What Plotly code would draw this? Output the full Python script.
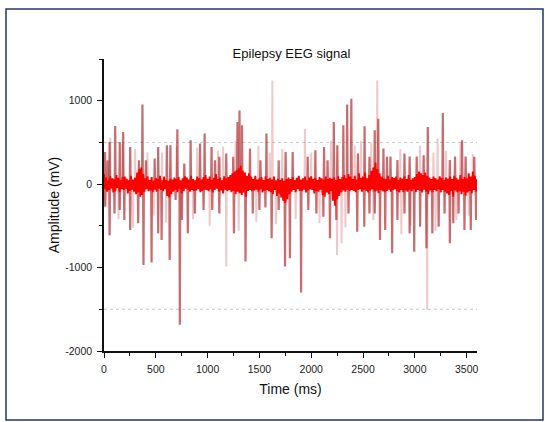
import plotly.graph_objects as go

# ---------------- data ----------------
# dense background activity, one sample every 10 ms from 0 to 3600 ms (mV)
base_step_ms = 10
baseline_mv = [
    120, -60, 80, -90, 40, -70, 95, -50, 70, -100,
    60, -85, 110, -45, 75, -95, 50, -60, 85, -70,
    90, -55, 65, -110, 45, -80, 100, -65, 55, -90,
    80, -120, 140, -100, 180, -150, 200, -130, 120, -90,
    70, -60, 95, -85, 50, -75, 85, -95, 40, -65,
    75, -90, 60, -55, 100, -70, 45, -85, 90, -60,
    50, -140, 40, -160, 65, -120, 55, -90, 80, -70,
    60, -95, 85, -60, 45, -110, 70, -80, 95, -55,
    80, -65, 55, -90, 100, -70, 60, -85, 45, -75,
    90, -60, 70, -95, 55, -80, 85, -65, 110, -70,
    65, -85, 90, -60, 50, -100, 75, -70, 120, -55,
    60, -90, 80, -75, 45, -110, 95, -65, 70, -85,
    85, -70, 110, -95, 130, -80, 150, -120, 170, -90,
    190, -110, 220, -130, 160, -100, 140, -150, 100, -80,
    130, -70, 90, -85, 60, -75, 100, -65, 55, -90,
    70, -60, 85, -100, 50, -80, 95, -70, 60, -85,
    75, -95, 55, -120, 90, -70, 45, -140, 65, -110,
    50, -160, 70, -200, 40, -230, 60, -180, 80, -120,
    60, -90, 85, -70, 50, -95, 75, -60, 100, -80,
    55, -85, 70, -65, 90, -100, 45, -75, 80, -60,
    95, -70, 60, -110, 75, -85, 50, -90, 85, -65,
    70, -130, 55, -150, 90, -100, 60, -120, 75, -80,
    65, -200, 80, -260, 50, -180, 95, -140, 60, -100,
    85, -75, 110, -90, 70, -65, 120, -85, 90, -70,
    60, -80, 100, -95, 55, -70, 130, -60, 75, -90,
    90, -65, 140, -80, 70, -100, 110, -75, 160, -60,
    200, -90, 260, -80, 180, -110, 130, -70, 90, -85,
    70, -95, 60, -80, 100, -65, 55, -90, 85, -70,
    75, -60, 90, -85, 50, -100, 80, -70, 65, -95,
    95, -75, 60, -90, 110, -65, 50, -85, 70, -60,
    85, -95, 120, -70, 150, -80, 130, -100, 110, -65,
    140, -90, 100, -120, 80, -75, 60, -95, 90, -70,
    70, -85, 55, -60, 95, -100, 75, -70, 50, -90,
    80, -110, 65, -130, 90, -80, 60, -150, 100, -75,
    75, -95, 55, -85, 110, -120, 60, -90, 85, -140,
    70, -100, 130, -80, 90, -110, 150, -70, 100, -90,
    60,
]
baseline_time_ms = [i * base_step_ms for i in range(len(baseline_mv))]

# dark-red spikes: time (ms) and peak amplitude (mV)
spike_time_ms = [
    10, 34, 54, 108, 152, 185, 253, 337, 371, 405, 489, 523, 607, 641, 708,
    775, 836, 927, 971, 1038, 1072, 1113, 1180, 1247, 1288, 1308, 1332, 1409,
    1510, 1568, 1686, 1753, 1821, 1966, 2040, 2124, 2158, 2218, 2252, 2310,
    2347, 2387, 2451, 2515, 2562, 2613, 2647, 2697, 2731, 2765, 2832, 2900,
    2950, 3018, 3085, 3125, 3270, 3338, 3388, 3456, 3490, 3574,
    12, 54, 101, 152, 196, 253, 330, 381, 459, 523, 556, 634, 691, 732, 752,
    809, 877, 961, 1045, 1113, 1254, 1366, 1436, 1500, 1558, 1618, 1686,
    1747, 1794, 1902, 1972, 2050, 2117, 2181, 2242, 2360, 2444, 2512, 2562,
    2613, 2664, 2714, 2781, 2832, 2900, 2950, 2994, 3051, 3112, 3169, 3230,
    3287, 3338, 3371, 3422, 3479, 3540, 3591,
]
spike_mv = [
    386, 287, 506, 697, 506, 625, 446, 287, 956, 287, 307, 446, 466, 466, 657,
    247, 526, 486, 606, 446, 287, 327, 367, 327, 745, 884, 705, 426,
    287, 606, 287, 386, 386, 327, 406, 446, 287, 745, 466, 705,
    956, 1024, 367, 693, 327, 645, 785, 426, 327, 330, 290, 367,
    330, 330, 347, 685, 853, 290, 330, 526, 330, 327,
    -271, -614, -351, -311, -430, -550, -470, -968, -940, -590, -669, -908,
    -191, -1685, -430, -590, -351, -311, -311, -351, -590, -928, -351, -311,
    -280, -649, -311, -988, -888, -1299, -311, -351, -390, -649, -430, -351,
    -570, -510, -351, -351, -669, -550, -829, -430, -351, -590, -809, -510,
    -769, -590, -510, -351, -709, -470, -351, -550, -550, -430,
]

# faint (pink) spikes: time (ms) and peak amplitude (mV)
faint_time_ms = [
    1625, 1939, 2637, 3220, 1180, 2249, 2293, 3119, 60, 420, 1150, 2480, 3300,
    180, 300, 560, 700, 900, 1100, 1270, 1490, 1600, 1720, 2000, 2190, 2420,
    2580, 2860, 3050, 3180, 3440, 3560,
    140, 280, 480, 600, 860, 1020, 1300, 1470, 1660, 1850, 2080, 2330, 2600,
    2870, 2960, 3200, 3400, 3520,
]
faint_mv = [
    1243, 665, 1243, 546, -988, -849, -709, -1506, 560, 380, 450, 520, 400,
    480, 420, 380, 460, 440, 400, 520, 460, 380, 420, 380, 520, 460,
    500, 420, 460, 380, 500, 360,
    -420, -520, -380, -460, -420, -500, -560, -450, -480, -420, -470, -520, -430,
    -600, -500, -560, -430, -380,
]

x_tick_vals = [0, 500, 1000, 1500, 2000, 2500, 3000, 3500]
x_tick_text = ["0", "500", "1000", "1500", "2000", "2500", "3000", "3500"]
y_tick_vals = [-2000, -1000, 0, 1000]
y_tick_text = ["-2000", "-1000", "0", "1000"]
x_minor_vals = [250, 750, 1250, 1750, 2250, 2750, 3250]
y_minor_vals = [-1500, -500, 500, 1500]
ref_levels_mv = [500, -1500]


def spike_path(times, amps, half_width=4):
    xs, ys = [], []
    for t, a in zip(times, amps):
        xs += [t - half_width, t, t + half_width, None]
        ys += [0, a, 0, None]
    return xs, ys


fig = go.Figure()

fx, fy = spike_path(faint_time_ms, faint_mv)
fig.add_trace(go.Scatter(x=fx, y=fy, mode="lines", hoverinfo="skip",
                         line=dict(color="rgba(215,120,120,0.4)", width=2),
                         showlegend=False))

sx, sy = spike_path(spike_time_ms, spike_mv)
fig.add_trace(go.Scatter(x=sx, y=sy, mode="lines", hoverinfo="skip",
                         line=dict(color="rgba(175,45,50,0.7)", width=2.2),
                         showlegend=False))

fig.add_trace(go.Scatter(x=baseline_time_ms, y=baseline_mv, mode="lines",
                         line=dict(color="#ff0000", width=1.9),
                         showlegend=False))

for lvl in ref_levels_mv:
    fig.add_shape(type="line", xref="x", yref="y", x0=0, x1=3600, y0=lvl, y1=lvl,
                  line=dict(color="#c8c8c8", width=1, dash="dot"), layer="below")

# outer navy frame
fig.add_shape(type="rect", xref="paper", yref="paper",
              x0=(6 - 104) / 373, x1=(543 - 104) / 373,
              y0=(351 - 420) / 292, y1=(351 - 9) / 292,
              line=dict(color="#23356b", width=1.5), fillcolor="rgba(0,0,0,0)")

axis_font = dict(family="Liberation Sans, Arial, sans-serif", size=10.5, color="#222")

fig.update_layout(
    width=545, height=422,
    margin=dict(l=104, r=68, t=59, b=71),
    paper_bgcolor="white", plot_bgcolor="white",
    title=dict(text="Epilepsy EEG signal", x=(291.5) / 545, xref="container", xanchor="center",
               y=1 - 53 / 422, yref="container", yanchor="middle",
               font=dict(family="Liberation Sans, Arial, sans-serif", size=13, color="#111")),
    xaxis=dict(range=[0, 3600], showgrid=False, zeroline=False, automargin=False,
               showline=True, linecolor="#111", linewidth=1.5,
               ticks="outside", ticklen=5, tickwidth=1, tickcolor="#111",
               tickmode="array", tickvals=x_tick_vals, ticktext=x_tick_text,
               minor=dict(tickmode="array", tickvals=x_minor_vals, ticks="outside",
                          ticklen=3, tickcolor="#111", showgrid=False),
               tickfont=axis_font, ticklabelstandoff=3,
               title=dict(text="Time (ms)", standoff=10,
                          font=dict(family="Liberation Sans, Arial, sans-serif", size=14, color="#111"))),
    yaxis=dict(range=[-2000, 1500], showgrid=False, zeroline=False, automargin=False,
               showline=True, linecolor="#111", linewidth=1.5,
               ticks="outside", ticklen=5, tickwidth=1, tickcolor="#111",
               tickmode="array", tickvals=y_tick_vals, ticktext=y_tick_text,
               minor=dict(tickmode="array", tickvals=y_minor_vals, ticks="outside",
                          ticklen=3, tickcolor="#111", showgrid=False),
               tickfont=axis_font, ticklabelstandoff=3,
               title=dict(text="Amplitude (mV)", standoff=2,
                          font=dict(family="Liberation Sans, Arial, sans-serif", size=14, color="#111"))),
)

fig.write_html("out.html", config={"displayModeBar": False},
               post_script="document.body.style.margin='0';document.body.style.overflow='hidden';")
